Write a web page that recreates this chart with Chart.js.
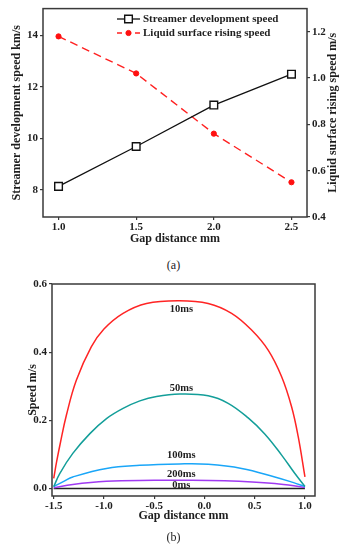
<!DOCTYPE html>
<html>
<head>
<meta charset="utf-8">
<script src="https://cdn.jsdelivr.net/npm/chart.js@4.4.1/dist/chart.umd.min.js"></script>
<style>
  html, body { margin: 0; padding: 0; background: #fff; }
  body { width: 347px; height: 550px; position: relative; overflow: hidden; font-family: 'Liberation Serif', serif; }
  .box { position: absolute; left: 0; width: 347px; }
  .cap { position: absolute; left: 0; width: 347px; text-align: center; font-size: 12px; line-height: 14px; color: #222; }
</style>
</head>
<body>
<div class="box" style="top:0;height:250px"><canvas id="chartA" width="347" height="250"></canvas></div>
<div class="cap" style="top:258px">(a)</div>
<div class="box" style="top:270px;height:262px"><canvas id="chartB" width="347" height="262"></canvas></div>
<div class="cap" style="top:530px">(b)</div>
<script>
// (a) streamer vs surface speed
const gapA = [1.0, 1.5, 2.0, 2.5];
const streamerSpeed = [8.14, 9.69, 11.3, 12.5];
const surfaceSpeed = [1.18, 1.02, 0.76, 0.55];
const leftTicksA = [8, 10, 12, 14];
const rightTicksA = [0.4, 0.6, 0.8, 1.0, 1.2];
const xTicksA = [1.0, 1.5, 2.0, 2.5];

// (b) speed profiles across the gap
const gap10 = [-1.5, -1.47, -1.433, -1.374, -1.274, -1.125, -1.0, -0.81, -0.577, -0.25, 0.037, 0.27, 0.469, 0.634, 0.768, 0.867, 0.933, 1.0];
const speed10 = [0.03, 0.08, 0.135, 0.215, 0.318, 0.416, 0.468, 0.514, 0.543, 0.551, 0.543, 0.514, 0.465, 0.406, 0.328, 0.24, 0.152, 0.034];
const gap50 = [-1.5, -1.44, -1.31, -1.14, -0.975, -0.81, -0.643, -0.477, -0.245, 0.037, 0.236, 0.435, 0.6, 0.768, 0.9, 1.0];
const speed50 = [0.005, 0.044, 0.103, 0.161, 0.205, 0.235, 0.257, 0.27, 0.277, 0.272, 0.25, 0.207, 0.16, 0.098, 0.044, 0.006];
const gap100 = [-1.5, -1.4, -1.31, -0.975, -0.643, -0.25, 0.037, 0.37, 0.7, 0.88, 1.0];
const speed100 = [0.006, 0.021, 0.034, 0.059, 0.068, 0.072, 0.071, 0.059, 0.034, 0.018, 0.006];
const gap200 = [-1.5, -1.31, -0.975, -0.5, -0.25, 0.2, 0.7, 1.0];
const speed200 = [0.002, 0.012, 0.021, 0.024, 0.0245, 0.023, 0.015, 0.003];
const gap0 = [-1.5, 1.0];
const speed0 = [0, 0];
const curveNames = ['10ms', '50ms', '100ms', '200ms', '0ms'];
const curveLabelX = [-0.23, -0.23, -0.23, -0.23, -0.23];
const curveLabelY = [0.527, 0.294, 0.097, 0.043, 0.008];
const xTicksB = [-1.5, -1.0, -0.5, 0.0, 0.5, 1.0];
const yTicksB = [0.0, 0.2, 0.4, 0.6];

const FONT = "'Liberation Serif', serif";
const INK = '#1e1e1e';
const tickFont = { family: FONT, size: 11, weight: 'bold' };
const titleFont = { family: FONT, size: 12, weight: 'bold' };

const pts = (xs, ys) => xs.map((x, i) => ({ x: x, y: ys[i] }));
const fixTicks = (vals) => (s) => { s.ticks = vals.map(v => ({ value: v })); };

const framePlugin = {
  id: 'frame',
  beforeDatasetsDraw(chart) {
    const { ctx, chartArea: a } = chart;
    ctx.save();
    ctx.strokeStyle = '#3a3a3a';
    ctx.lineWidth = 1.5;
    ctx.strokeRect(a.left, a.top, a.right - a.left, a.bottom - a.top);
    ctx.restore();
  }
};

// right axis title reads bottom-to-top in the original
const rightTitlePlugin = {
  id: 'rightTitle',
  afterDraw(chart) {
    const { ctx, chartArea: a } = chart;
    ctx.save();
    ctx.translate(333, (a.top + a.bottom) / 2);
    ctx.rotate(-Math.PI / 2);
    ctx.fillStyle = INK;
    ctx.font = 'bold 12px ' + FONT;
    ctx.textAlign = 'center';
    ctx.textBaseline = 'middle';
    ctx.fillText('Liquid surface rising speed m/s', 0, 0);
    ctx.restore();
  }
};

const legendPlugin = {
  id: 'sampleLegend',
  afterDraw(chart) {
    const ctx = chart.ctx;
    const x0 = 117, x1 = 140, tx = 143;
    const rows = [19, 33];
    chart.data.datasets.forEach((ds, i) => {
      const y = rows[i], cx = (x0 + x1) / 2;
      ctx.save();
      ctx.strokeStyle = ds.borderColor;
      ctx.lineWidth = ds.borderWidth;
      ctx.setLineDash(ds.borderDash ? [5, 4] : []);
      ctx.beginPath(); ctx.moveTo(x0, y); ctx.lineTo(x1, y); ctx.stroke();
      ctx.setLineDash([]);
      ctx.fillStyle = ds.pointBackgroundColor;
      ctx.strokeStyle = ds.pointBorderColor;
      ctx.lineWidth = ds.pointBorderWidth;
      ctx.beginPath();
      if (ds.pointStyle === 'rect') {
        const h = ds.pointRadius * Math.SQRT1_2;
        ctx.rect(cx - h, y - h, 2 * h, 2 * h);
      } else {
        ctx.arc(cx, y, ds.pointRadius, 0, Math.PI * 2);
      }
      ctx.fill(); ctx.stroke();
      ctx.fillStyle = INK;
      ctx.font = 'bold 11px ' + FONT;
      ctx.textBaseline = 'middle';
      ctx.fillText(ds.label, tx, y);
      ctx.restore();
    });
  }
};

const curveLabelPlugin = {
  id: 'curveLabels',
  afterDatasetsDraw(chart) {
    const { ctx, scales } = chart;
    ctx.save();
    ctx.fillStyle = INK;
    ctx.font = 'bold 10.5px ' + FONT;
    ctx.textAlign = 'center';
    ctx.textBaseline = 'middle';
    curveNames.forEach((name, i) => {
      ctx.fillText(name, scales.x.getPixelForValue(curveLabelX[i]), scales.y.getPixelForValue(curveLabelY[i]));
    });
    ctx.restore();
  }
};

const axisGrid = { drawOnChartArea: false, drawTicks: true, tickLength: 3, tickColor: '#3a3a3a', lineWidth: 1.2 };

new Chart(document.getElementById('chartA'), {
  type: 'line',
  data: {
    datasets: [
      {
        label: 'Streamer development speed',
        data: pts(gapA, streamerSpeed),
        yAxisID: 'y',
        borderColor: '#111',
        borderWidth: 1.3,
        pointStyle: 'rect',
        pointRadius: 5.4,
        pointBackgroundColor: '#fff',
        pointBorderColor: '#111',
        pointBorderWidth: 1.4,
        tension: 0
      },
      {
        label: 'Liquid surface rising speed',
        data: pts(gapA, surfaceSpeed),
        yAxisID: 'y2',
        borderColor: '#ff2020',
        borderWidth: 1.4,
        borderDash: [8, 5],
        pointStyle: 'circle',
        pointRadius: 2.6,
        pointBackgroundColor: '#ff1010',
        pointBorderColor: '#ff1010',
        pointBorderWidth: 1,
        tension: 0
      }
    ]
  },
  options: {
    responsive: false,
    animation: false,
    devicePixelRatio: 1,
    layout: { padding: { top: 5, left: 0, right: 0, bottom: 0 } },
    plugins: { legend: { display: false }, tooltip: { enabled: false } },
    scales: {
      x: {
        type: 'linear', min: 0.9, max: 2.6,
        afterBuildTicks: fixTicks(xTicksA),
        afterFit: (s) => { s.height = 33; },
        grid: axisGrid, border: { display: false },
        ticks: { font: tickFont, color: INK, padding: 1, maxRotation: 0, callback: v => v.toFixed(1) },
        title: { display: true, text: 'Gap distance mm', font: titleFont, color: INK, padding: { top: 0, bottom: 4 } }
      },
      y: {
        position: 'left', min: 6.95, max: 15.05,
        afterBuildTicks: fixTicks(leftTicksA),
        afterFit: (s) => { s.width = 43; },
        grid: axisGrid, border: { display: false },
        ticks: { font: tickFont, color: INK, padding: 2, callback: v => String(v) },
        title: { display: true, text: 'Streamer development speed km/s', font: titleFont, color: INK, padding: { top: 10, bottom: 0 } }
      },
      y2: {
        position: 'right', min: 0.4, max: 1.3,
        afterBuildTicks: fixTicks(rightTicksA),
        afterFit: (s) => { s.width = 40; },
        grid: axisGrid, border: { display: false },
        ticks: { font: tickFont, color: INK, padding: 2, callback: v => v.toFixed(1) },
        title: { display: false }
      }
    }
  },
  plugins: [framePlugin, legendPlugin, rightTitlePlugin]
});

const curveColors = ['#ff2424', '#139e99', '#1aa6f8', '#a03af2', '#222222'];
const curveX = [gap10, gap50, gap100, gap200, gap0];
const curveY = [speed10, speed50, speed100, speed200, speed0];

new Chart(document.getElementById('chartB'), {
  type: 'line',
  data: {
    datasets: curveY.map((ys, i) => ({
      label: curveNames[i],
      data: pts(curveX[i], ys),
      borderColor: curveColors[i],
      borderWidth: 1.5,
      pointRadius: 0,
      tension: 0.4
    }))
  },
  options: {
    responsive: false,
    animation: false,
    devicePixelRatio: 1,
    layout: { padding: { top: 14, left: 0, right: 32, bottom: 0 } },
    plugins: { legend: { display: false }, tooltip: { enabled: false } },
    scales: {
      x: {
        type: 'linear', min: -1.517, max: 1.1,
        afterBuildTicks: fixTicks(xTicksB),
        afterFit: (s) => { s.height = 36; },
        grid: axisGrid, border: { display: false },
        ticks: { font: tickFont, color: INK, padding: 1, maxRotation: 0, callback: v => v.toFixed(1) },
        title: { display: true, text: 'Gap distance mm', font: titleFont, color: INK, padding: { top: 0, bottom: 9 } }
      },
      y: {
        min: -0.022, max: 0.6,
        afterBuildTicks: fixTicks(yTicksB),
        afterFit: (s) => { s.width = 52; },
        grid: axisGrid, border: { display: false },
        ticks: { font: tickFont, color: INK, padding: 2, callback: v => v.toFixed(1) },
        title: { display: true, text: 'Speed m/s', font: titleFont, color: INK, padding: { top: 26, bottom: 0 } }
      }
    }
  },
  plugins: [framePlugin, curveLabelPlugin]
});
</script>
</body>
</html>
